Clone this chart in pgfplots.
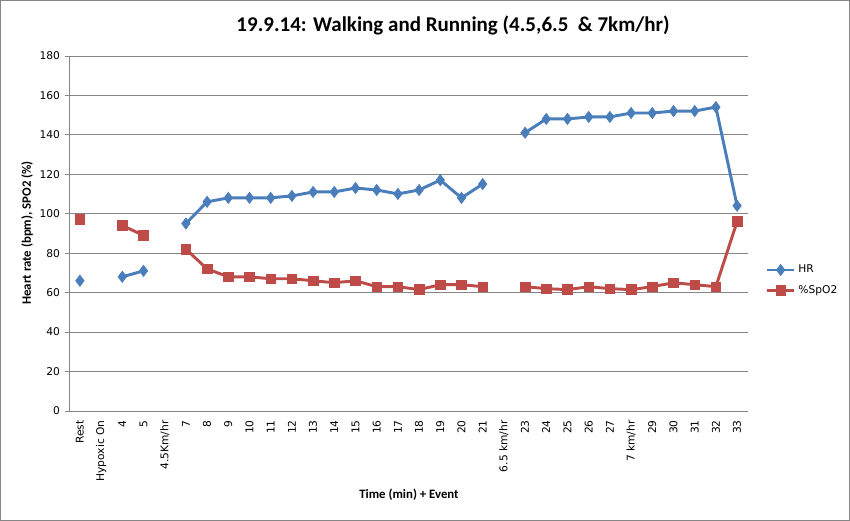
\documentclass[border=0pt]{standalone}
\usepackage{pgfplots}
\pgfplotsset{compat=1.18}
\usepackage{pgfplotstable}
\usepackage{fontspec}
\setmainfont{Carlito}
\newfontfamily\tickfont{DejaVu Sans}
\definecolor{hrblue}{HTML}{4A7EBB}
\definecolor{spred}{HTML}{BE4B48}
\definecolor{gridgray}{HTML}{868686}
\pgfplotstableread{
x hr sp
0 66 97
1 nan nan
2 68 94
3 71 89
4 nan nan
5 95 82
6 106 72
7 108 68
8 108 68
9 108 67
10 109 67
11 111 66
12 111 65
13 113 66
14 112 63
15 110 63
16 112 61.5
17 117 64
18 108 64
19 115 63
20 nan nan
21 141 63
22 148 62
23 148 61.5
24 149 63
25 149 62
26 151 61.5
27 151 63
28 152 65
29 152 64
30 154 63
31 104 96
}\datatable
\begin{document}
\begin{tikzpicture}
\draw[gridgray] (0.375pt,0.375pt) rectangle (637.125pt,390.375pt);
\begin{axis}[
  at={(52.125pt,82.5pt)}, anchor=south west,
  scale only axis, width=508.5pt, height=266.25pt,
  xmin=-0.5, xmax=31.5, ymin=0, ymax=180,
  ytick={0,20,...,180},
  xtick={0,...,31},
  xticklabels={Rest,Hypoxic On,4,5,4.5Km/hr,7,8,9,10,11,12,13,14,15,16,17,18,19,20,21,6.5 km/hr,23,24,25,26,27,7 km/hr,29,30,31,32,33},
  x tick label style={rotate=90, anchor=east},
  ticklabel style={font=\tickfont\fontsize{8}{9.5}\selectfont},
  /pgf/number format/assume math mode=true,
  axis x line*=bottom, axis y line*=left,
  axis line style={gridgray, thin},
  ymajorgrids, grid style={gridgray, thin},
  major y tick style={gridgray, thin},
  tick align=outside, major tick length=3.5pt,
  x tick style={draw=none},
  unbounded coords=jump,
  legend style={at={(1.02,0.368)}, anchor=west, draw=none, fill=none,
    font=\tickfont\fontsize{8}{9.5}\selectfont, row sep=4pt},
  legend cell align=left,
  legend image code/.code={\draw[mark repeat=2,mark phase=2,#1] plot coordinates {(0cm,0cm) (0.36cm,0cm) (0.72cm,0cm)};},
  clip=false,
]
\addplot[hrblue, line width=2.2pt, mark=diamond*, mark size=4.2pt, mark options={solid, fill=hrblue, line width=0.5pt}] table[x=x,y=hr] {\datatable};
\addlegendentry{HR}
\addplot[spred, line width=2.2pt, mark=square*, mark size=3.6pt, mark options={solid, fill=spred, line width=0.5pt}] table[x=x,y=sp] {\datatable};
\addlegendentry{\%SpO2}
\end{axis}
\node[font=\bfseries\fontsize{15.75}{18}\selectfont] at (339.75pt,371.5pt) {19.9.14: Walking and Running (4.5,6.5 \ \& 7km/hr)};
\node[font=\bfseries\fontsize{9.6}{11}\selectfont] at (306.75pt,19.5pt) {Time (min) + Event};
\node[font=\bfseries\fontsize{9.6}{11}\selectfont, rotate=90] at (20.5pt,216pt) {Heart rate (bpm), SPO2 (\%)};
\end{tikzpicture}
\end{document}
